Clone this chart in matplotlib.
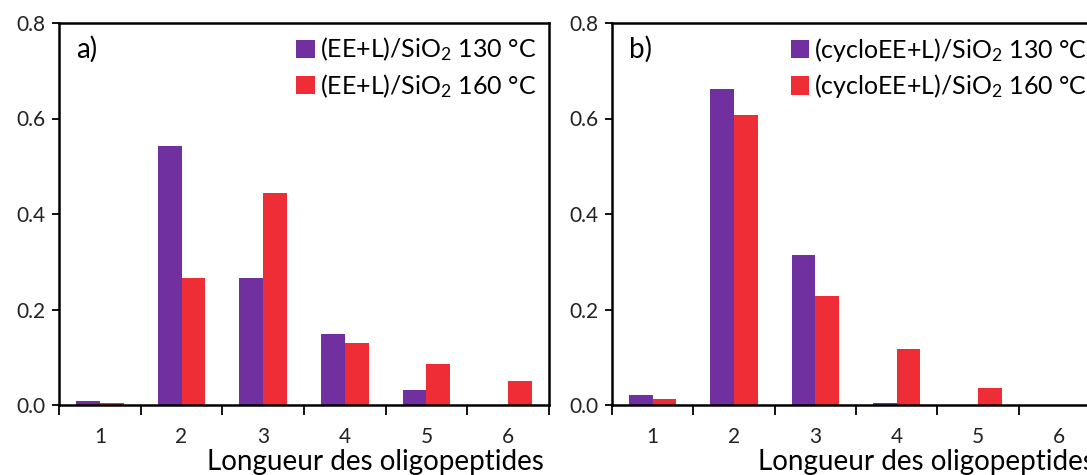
import matplotlib
matplotlib.use("Agg")
import matplotlib.pyplot as plt
import numpy as np
from matplotlib.ticker import FormatStrFormatter

plt.rcParams['font.family'] = ['Lato', 'DejaVu Sans']
plt.rcParams['mathtext.fontset'] = 'custom'
plt.rcParams['mathtext.rm'] = 'Lato'
plt.rcParams['mathtext.default'] = 'regular'

# Data
lengths = [1, 2, 3, 4, 5, 6]
a_130 = [0.009, 0.543, 0.267, 0.149, 0.031, 0.0]
a_160 = [0.004, 0.265, 0.444, 0.130, 0.085, 0.050]
b_130 = [0.021, 0.662, 0.315, 0.004, 0.0, 0.0]
b_160 = [0.013, 0.607, 0.229, 0.117, 0.036, 0.0]

labels_a = ['(EE+L)/SiO$_2$ 130 °C', '(EE+L)/SiO$_2$ 160 °C']
labels_b = ['(cycloEE+L)/SiO$_2$ 130 °C', '(cycloEE+L)/SiO$_2$ 160 °C']

purple = '#7030A0'
red = '#EF2D36'
W, H = 1087, 475

fig = plt.figure(figsize=(W / 100, H / 100), dpi=100)
ax_a = fig.add_axes([59 / W, 1 - 405 / H, 490 / W, 382 / H])
ax_b = fig.add_axes([612 / W, 1 - 405 / H, 488 / W, 382 / H])


def panel(ax, s130, s160, labels, tag):
    x = np.arange(len(lengths))
    w = 0.29
    ax.bar(x - w / 2, s130, w, color=purple, label=labels[0])
    ax.bar(x + w / 2, s160, w, color=red, label=labels[1])
    ax.set_xlim(-0.5, len(lengths) - 0.5)
    ax.set_ylim(0, 0.8)
    ax.set_yticks([0, 0.2, 0.4, 0.6, 0.8])
    ax.yaxis.set_major_formatter(FormatStrFormatter('%.1f'))
    # category boundaries carry the tick marks, labels sit in the middle
    ax.set_xticks(np.arange(len(lengths) + 1) - 0.5)
    ax.set_xticklabels([])
    ax.set_xticks(x, minor=True)
    ax.set_xticklabels([str(v) for v in lengths], minor=True)
    ax.tick_params(axis='x', which='major', length=7, width=1.3, direction='out')
    ax.tick_params(axis='x', which='minor', length=0, pad=16, labelsize=15,
                   labelcolor='#222222')
    ax.tick_params(axis='y', length=5, width=1.3, pad=5, labelsize=15,
                   labelcolor='#222222')
    for s in ax.spines.values():
        s.set_linewidth(1.8)
    ax.text(0.035, 0.93, tag, transform=ax.transAxes, fontsize=20, va='center', ha='left')
    ax.legend(loc='upper right', frameon=False, fontsize=18,
              handlelength=0.75, handleheight=0.75, handletextpad=0.2,
              labelspacing=0.35, borderaxespad=0.3, borderpad=0.2)
    ax.text(0.99, -0.15, 'Longueur des oligopeptides', transform=ax.transAxes,
            fontsize=20, ha='right', va='center')


panel(ax_a, a_130, a_160, labels_a, 'a)')
panel(ax_b, b_130, b_160, labels_b, 'b)')

fig.savefig('out.png', dpi=100)
